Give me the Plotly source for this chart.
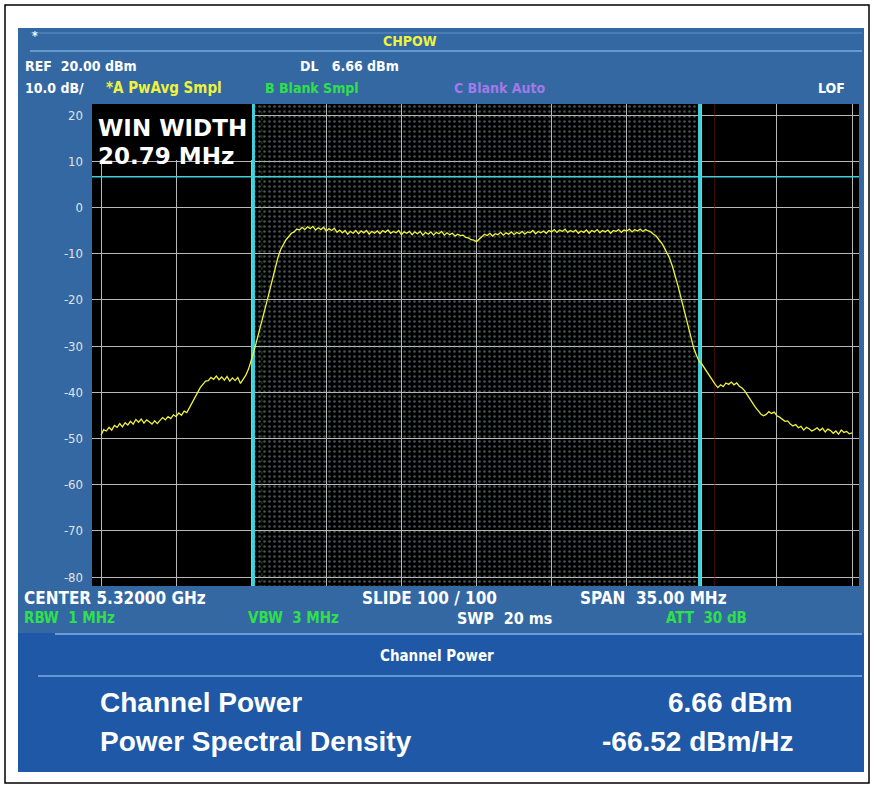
import plotly.graph_objects as go

# ---------------- data ----------------
center_mhz = 5320.0
span_mhz = 35.0
win_width_mhz = 20.79
display_line_dbm = 6.66
ref_level_dbm = 20.0
db_per_div = 10.0

y_ticks = [20, 10, 0, -10, -20, -30, -40, -50, -60, -70, -80]
y_tick_labels = ["20", "10", "0", "-10", "-20", "-30", "-40", "-50", "-60", "-70", "-80"]

# frequency offset from center (MHz) of each read-off trace point (one row = 1 MHz)
freq_offset_mhz = [
    -17.5, -17.375, -17.25, -17.125, -17.0, -16.875, -16.75, -16.625,
    -16.5, -16.375, -16.25, -16.125, -16.0, -15.875, -15.75, -15.625,
    -15.5, -15.375, -15.25, -15.125, -15.0, -14.875, -14.75, -14.625,
    -14.5, -14.375, -14.25, -14.125, -14.0, -13.875, -13.75, -13.625,
    -13.5, -13.375, -13.25, -13.125, -13.0, -12.875, -12.75, -12.625,
    -12.5, -12.375, -12.25, -12.125, -12.0, -11.875, -11.75, -11.625,
    -11.5, -11.375, -11.25, -11.125, -11.0, -10.875, -10.75, -10.625,
    -10.5, -10.375, -10.25, -10.125, -10.0, -9.875, -9.75, -9.625,
    -9.5, -9.375, -9.25, -9.125, -9.0, -8.875, -8.75, -8.625,
    -8.5, -8.375, -8.25, -8.125, -8.0, -7.875, -7.75, -7.625,
    -7.5, -7.375, -7.25, -7.125, -7.0, -6.875, -6.75, -6.625,
    -6.5, -6.375, -6.25, -6.125, -6.0, -5.875, -5.75, -5.625,
    -5.5, -5.375, -5.25, -5.125, -5.0, -4.875, -4.75, -4.625,
    -4.5, -4.375, -4.25, -4.125, -4.0, -3.875, -3.75, -3.625,
    -3.5, -3.375, -3.25, -3.125, -3.0, -2.875, -2.75, -2.625,
    -2.5, -2.375, -2.25, -2.125, -2.0, -1.875, -1.75, -1.625,
    -1.5, -1.375, -1.25, -1.125, -1.0, -0.875, -0.75, -0.625,
    -0.5, -0.375, -0.25, -0.125, 0.0, 0.125, 0.25, 0.375,
    0.5, 0.625, 0.75, 0.875, 1.0, 1.125, 1.25, 1.375,
    1.5, 1.625, 1.75, 1.875, 2.0, 2.125, 2.25, 2.375,
    2.5, 2.625, 2.75, 2.875, 3.0, 3.125, 3.25, 3.375,
    3.5, 3.625, 3.75, 3.875, 4.0, 4.125, 4.25, 4.375,
    4.5, 4.625, 4.75, 4.875, 5.0, 5.125, 5.25, 5.375,
    5.5, 5.625, 5.75, 5.875, 6.0, 6.125, 6.25, 6.375,
    6.5, 6.625, 6.75, 6.875, 7.0, 7.125, 7.25, 7.375,
    7.5, 7.625, 7.75, 7.875, 8.0, 8.125, 8.25, 8.375,
    8.5, 8.625, 8.75, 8.875, 9.0, 9.125, 9.25, 9.375,
    9.5, 9.625, 9.75, 9.875, 10.0, 10.125, 10.25, 10.375,
    10.5, 10.625, 10.75, 10.875, 11.0, 11.125, 11.25, 11.375,
    11.5, 11.625, 11.75, 11.875, 12.0, 12.125, 12.25, 12.375,
    12.5, 12.625, 12.75, 12.875, 13.0, 13.125, 13.25, 13.375,
    13.5, 13.625, 13.75, 13.875, 14.0, 14.125, 14.25, 14.375,
    14.5, 14.625, 14.75, 14.875, 15.0, 15.125, 15.25, 15.375,
    15.5, 15.625, 15.75, 15.875, 16.0, 16.125, 16.25, 16.375,
    16.5, 16.625, 16.75, 16.875, 17.0, 17.125, 17.25, 17.375,
    17.5,
]
# trace A (PwAvg) level in dBm
trace_a_dbm = [
    -49.3, -48.1, -48.4, -47.6, -48.2, -47.2, -47.6, -46.8,
    -47.5, -46.6, -47.1, -46.3, -46.9, -45.9, -46.5, -45.8,
    -46.7, -46.0, -46.4, -46.9, -46.2, -46.8, -46.1, -45.5,
    -46.0, -45.3, -45.7, -44.9, -45.3, -44.5, -45.0, -44.1,
    -44.4, -43.4, -42.3, -41.2, -40.1, -39.0, -38.3, -37.6,
    -37.5, -36.8, -37.2, -36.5, -37.3, -36.7, -37.4, -36.6,
    -37.6, -36.9, -37.5, -36.8, -38.1, -37.2, -36.3, -35.0,
    -33.2, -31.2, -29.0, -26.9, -24.6, -22.3, -20.0, -17.6,
    -15.2, -12.8, -10.8, -9.1, -7.9, -7.0, -6.3, -5.6,
    -5.3, -4.7, -4.9, -4.3, -4.8, -4.2, -4.6, -4.1,
    -4.9, -4.4, -4.8, -4.3, -5.1, -4.6, -5.0, -4.5,
    -5.4, -4.9, -5.5, -5.0, -5.8, -5.2, -5.6, -5.0,
    -5.7, -5.1, -5.5, -5.0, -5.8, -5.2, -5.6, -5.1,
    -5.7, -5.0, -5.4, -4.9, -5.6, -5.2, -5.5, -5.0,
    -5.9, -5.3, -5.6, -5.2, -5.9, -5.3, -5.7, -5.2,
    -6.0, -5.4, -5.8, -5.3, -6.0, -5.4, -5.7, -5.2,
    -6.0, -5.5, -5.9, -5.6, -6.2, -5.8, -6.1, -6.0,
    -6.5, -6.6, -7.0, -7.1, -7.4, -6.9, -6.3, -5.8,
    -6.1, -5.6, -6.2, -5.7, -5.9, -5.4, -6.0, -5.5,
    -5.8, -5.3, -5.9, -5.4, -5.7, -5.2, -5.8, -5.3,
    -5.5, -5.0, -5.7, -5.2, -5.5, -5.1, -5.6, -5.0,
    -5.3, -4.8, -5.4, -4.9, -5.2, -4.7, -5.4, -5.0,
    -5.3, -4.9, -5.6, -5.1, -5.4, -4.9, -5.6, -5.0,
    -5.3, -4.8, -5.5, -5.0, -5.3, -4.9, -5.6, -5.0,
    -5.2, -4.8, -5.4, -4.9, -5.1, -4.7, -5.3, -4.8,
    -5.1, -4.7, -5.2, -4.8, -5.1, -5.3, -5.8, -6.2,
    -7.0, -7.7, -8.7, -9.8, -11.0, -12.7, -14.5, -16.7,
    -19.0, -21.4, -23.9, -26.3, -28.6, -30.5, -32.0, -33.3,
    -33.9, -34.8, -35.5, -36.4, -37.4, -38.3, -39.0, -38.4,
    -38.8, -38.0, -38.3, -37.8, -38.4, -38.0, -38.7, -39.1,
    -39.7, -40.6, -41.7, -42.5, -43.3, -44.0, -44.7, -45.1,
    -44.8, -44.2, -44.6, -44.3, -45.1, -45.4, -45.8, -46.3,
    -46.2, -46.9, -47.3, -47.0, -47.7, -47.4, -48.2, -47.6,
    -47.9, -48.4, -48.1, -47.7, -48.3, -47.8, -48.6, -48.0,
    -48.3, -48.9, -48.4, -49.1, -48.2, -48.7, -48.5, -49.0,
    -48.8,
]
assert len(freq_offset_mhz) == len(trace_a_dbm)

freqs = [center_mhz + f for f in freq_offset_mhz]
x_start = center_mhz - span_mhz / 2
x_stop = center_mhz + span_mhz / 2
win_lo = center_mhz - win_width_mhz / 2
win_hi = center_mhz + win_width_mhz / 2
y_bottom = ref_level_dbm - 10 * db_per_div

# ---------------- geometry helpers (pixel -> paper) ----------------
W, H = 874, 789
L, R, T, B = 92, 15, 104, 203
PW, PH = W - L - R, H - T - B


def xp(px):
    return (px - L) / PW


def yp(py):
    return (H - B - py) / PH


NARROW = "Liberation Sans Narrow, DejaVu Sans Condensed, Liberation Sans, Arial"
SANS = "Liberation Sans, Arial, DejaVu Sans"
WIDE = "DejaVu Sans, Liberation Sans"
PANEL = "#3468a3"
PANEL_DARK = "#1e58a6"
CYAN = "#3fd2dc"
YELLOW = "#eef23c"
GREEN = "#2fe04a"
PURPLE = "#a27ae6"

fig = go.Figure()

# window (dotted) region
fig.add_trace(go.Scatter(
    x=[win_lo, win_hi, win_hi, win_lo, win_lo],
    y=[y_bottom - 5, y_bottom - 5, ref_level_dbm + 5, ref_level_dbm + 5, y_bottom - 5],
    fill="toself", mode="none", fillcolor="rgba(0,0,0,0)",
    fillpattern=dict(shape=".", fgcolor="#8fa3a3", size=5, solidity=0.2),
    hoverinfo="skip", showlegend=False,
))

# faint markers next to window edges
fig.add_trace(go.Scatter(x=[center_mhz - 10.0, center_mhz - 10.0], y=[y_bottom - 5, ref_level_dbm + 5],
                         mode="lines", line=dict(color="rgba(40,150,60,0.55)", width=1, dash="dot"),
                         hoverinfo="skip", showlegend=False))
fig.add_trace(go.Scatter(x=[center_mhz + 11.1, center_mhz + 11.1], y=[y_bottom - 5, ref_level_dbm + 5],
                         mode="lines", line=dict(color="rgba(120,20,20,0.6)", width=1),
                         hoverinfo="skip", showlegend=False))

# cyan window lines and display line
for xv in (win_lo, win_hi):
    fig.add_trace(go.Scatter(x=[xv, xv], y=[y_bottom - 5, ref_level_dbm + 5], mode="lines",
                             line=dict(color=CYAN, width=3), hoverinfo="skip", showlegend=False))
fig.add_trace(go.Scatter(x=[x_start - 2, x_stop + 2], y=[display_line_dbm, display_line_dbm], mode="lines",
                         line=dict(color=CYAN, width=1.5), hoverinfo="skip", showlegend=False))

# trace A
fig.add_trace(go.Scatter(x=freqs, y=trace_a_dbm, mode="lines",
                         line=dict(color=YELLOW, width=1.3), showlegend=False))

shapes = [
    # outer frame
    dict(type="rect", xref="paper", yref="paper", x0=xp(5), x1=xp(869), y0=yp(783), y1=yp(5),
         line=dict(color="black", width=1.5), fillcolor="white", layer="below"),
    # blue panel
    dict(type="rect", xref="paper", yref="paper", x0=xp(18), x1=xp(864), y0=yp(772), y1=yp(28),
         line=dict(width=0), fillcolor=PANEL, layer="below"),
    # lower darker panel
    dict(type="rect", xref="paper", yref="paper", x0=xp(18), x1=xp(864), y0=yp(772), y1=yp(633),
         line=dict(width=0), fillcolor=PANEL_DARK, layer="below"),
    # black plot area
    dict(type="rect", xref="paper", yref="paper", x0=0, x1=1, y0=0, y1=1,
         line=dict(width=0), fillcolor="black", layer="below"),
    # header separators
    dict(type="line", xref="paper", yref="paper", x0=xp(30), x1=xp(862), y0=yp(33), y1=yp(33),
         line=dict(color="#5f8fc4", width=1), layer="below"),
    dict(type="line", xref="paper", yref="paper", x0=xp(30), x1=xp(862), y0=yp(51), y1=yp(51),
         line=dict(color="#79a8dc", width=1.5), layer="below"),
    dict(type="line", xref="paper", yref="paper", x0=xp(55), x1=xp(862), y0=yp(634), y1=yp(634),
         line=dict(color="#86b6e6", width=1.5), layer="below"),
    dict(type="line", xref="paper", yref="paper", x0=xp(38), x1=xp(862), y0=yp(676), y1=yp(676),
         line=dict(color="#79aee6", width=1.5), layer="below"),
    # black box behind the WIN WIDTH readout
    dict(type="rect", xref="paper", yref="paper", x0=0, x1=xp(252), y0=yp(160), y1=1,
         line=dict(width=0), fillcolor="black", layer="above"),
]


def txt(px, py, s, color="white", size=13, family=NARROW, anchor="left", bold=True):
    return dict(xref="paper", yref="paper", x=xp(px), y=yp(py), text=("<b>%s</b>" % s) if bold else s,
                showarrow=False, xanchor=anchor, yanchor="middle",
                font=dict(color=color, size=size, family=family))


annotations = [
    txt(30, 36, "*", size=12),
    txt(410, 41, "CHPOW", color=YELLOW, size=14, anchor="center"),
    txt(23, 66, "REF  20.00 dBm", size=14),
    txt(298, 66, "DL   6.66 dBm", size=14),
    txt(23, 88, "10.0 dB/", size=14),
    txt(104, 88, "*A PwAvg Smpl", color=YELLOW, size=15),
    txt(263, 88, "B Blank Smpl", color=GREEN, size=14),
    txt(452, 88, "C Blank Auto", color=PURPLE, size=14),
    txt(847, 88, "LOF", size=14, anchor="right"),
    txt(96, 128, "WIN WIDTH", size=23, family=WIDE),
    txt(96, 156, "20.79 MHz", size=23, family=WIDE),
    txt(22, 598, "CENTER 5.32000 GHz", size=17),
    txt(360, 598, "SLIDE 100 / 100", size=17),
    txt(578, 598, "SPAN  35.00 MHz", size=17),
    txt(22, 618, "RBW  1 MHz", color=GREEN, size=15),
    txt(246, 618, "VBW  3 MHz", color=GREEN, size=15),
    txt(455, 618, "SWP  20 ms", size=16),
    txt(664, 618, "ATT  30 dB", color=GREEN, size=15),
    txt(437, 656, "Channel Power", size=15, anchor="center"),
    txt(98, 702, "Channel Power", size=28, family=SANS),
    txt(795, 702, "6.66 dBm", size=28, family=SANS, anchor="right"),
    txt(98, 741, "Power Spectral Density", size=28, family=SANS),
    txt(795, 741, "-66.52 dBm/Hz", size=28, family=SANS, anchor="right"),
]

px_per_mhz = 75.1 / 3.5
px_per_db = 4.62
fig.update_layout(
    width=W, height=H,
    margin=dict(l=L, r=R, t=T, b=B),
    paper_bgcolor="white",
    plot_bgcolor="rgba(0,0,0,0)",
    shapes=shapes,
    annotations=annotations,
    showlegend=False,
    xaxis=dict(range=[x_start - 9 / px_per_mhz, x_stop + 7 / px_per_mhz],
               tickvals=[x_start + i * span_mhz / 10 for i in range(11)],
               showticklabels=False, ticks="", showgrid=True, gridcolor="#b8b8b8", gridwidth=1,
               zeroline=False, showline=False, fixedrange=True),
    yaxis=dict(range=[y_bottom - 9 / px_per_db, ref_level_dbm + 11 / px_per_db],
               tickvals=y_ticks, ticktext=y_tick_labels,
               tickfont=dict(color="#e2e2e2", size=13, family=NARROW), ticks="",
               ticklabelstandoff=8,
               showgrid=True, gridcolor="#b8b8b8", gridwidth=1,
               zeroline=False, showline=False, fixedrange=True),
)

fig.write_html("out.html", config={"displayModeBar": False},
               post_script="document.body.style.margin='0';")
